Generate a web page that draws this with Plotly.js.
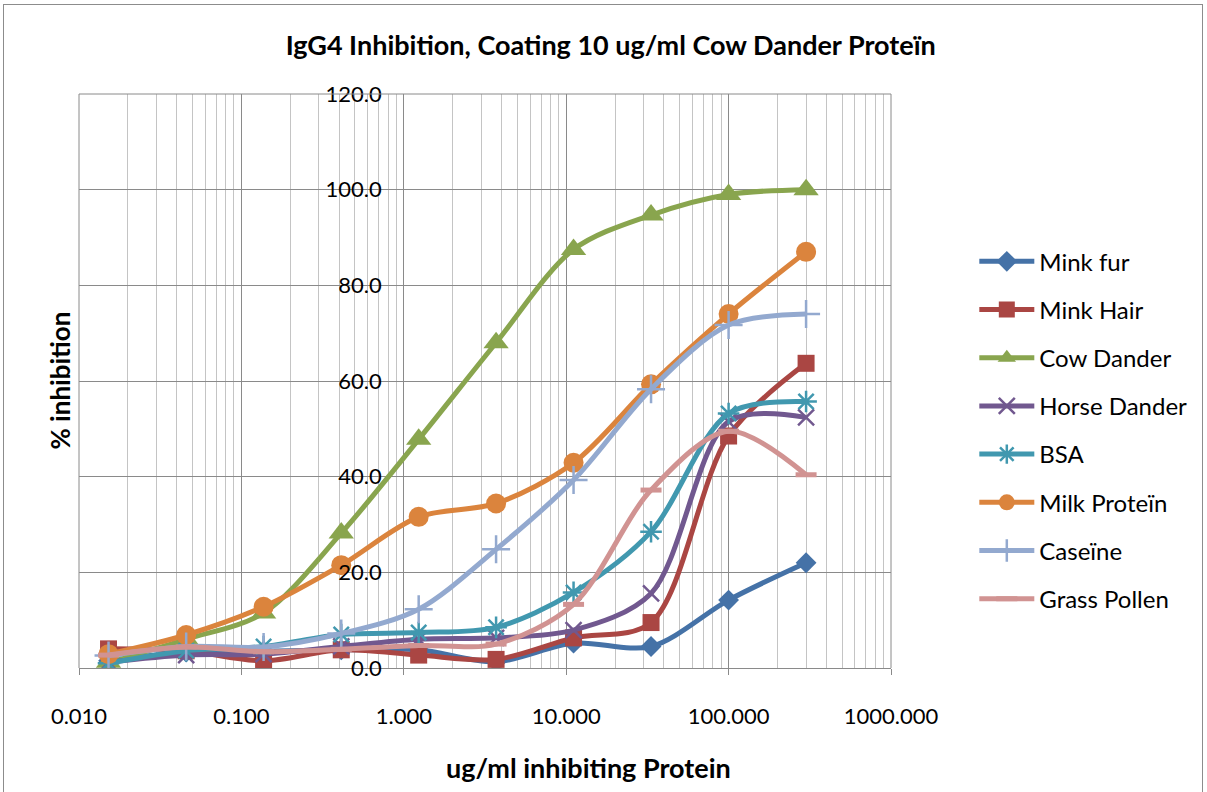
<!DOCTYPE html>
<html>
<head>
<meta charset="utf-8">
<script src="https://cdn.plot.ly/plotly-3.0.1.min.js"></script>
<style>
html,body{margin:0;padding:0;background:#fff;}
#wrap{position:relative;width:1207px;height:792px;}
#chart{width:1207px;height:792px;}
#frame{position:absolute;left:3px;top:4px;width:1200px;height:790px;border:1px solid #8c8c8c;pointer-events:none;box-sizing:border-box;border-bottom:none;}
</style>
</head>
<body>
<div id="wrap"><div id="chart"></div><div id="frame"></div></div>
<script>
const concentrations = [0.0152, 0.0457, 0.137, 0.412, 1.235, 3.70, 11.1, 33.3, 100, 300];

const minkFur     = [1.5, 3.3, 3.5, 3.8, 3.8, 1.3, 5.2, 4.5, 14.2, 22.0];
const minkHair    = [4.0, 3.6, 1.5, 3.8, 2.7, 1.8, 6.3, 9.5, 48.5, 63.7];
const cowDander   = [1.2, 6.0, 11.5, 28.2, 47.8, 68.0, 87.5, 94.7, 99.0, 100.0];
const horseDander = [1.2, 2.7, 2.9, 4.5, 6.0, 6.3, 7.9, 15.6, 51.5, 52.4];
const bsa         = [1.0, 3.6, 4.5, 7.0, 7.4, 8.5, 15.8, 28.5, 53.2, 55.7];
const milkProtein = [2.9, 6.9, 12.8, 21.5, 31.6, 34.4, 42.9, 59.3, 74.0, 87.0];
const caseine     = [2.6, 4.5, 4.4, 7.2, 12.3, 24.8, 39.3, 58.3, 71.7, 74.0];
const grassPollen = [2.7, 4.4, 3.4, 3.9, 4.7, 5.0, 13.3, 37.2, 49.5, 40.4];

const seriesNames = ["Mink fur", "Mink Hair", "Cow Dander", "Horse Dander", "BSA", "Milk Proteïn", "Caseïne", "Grass Pollen"];
const xTickVals = [0.01, 0.1, 1, 10, 100, 1000];
const xTickText = ["0.010", "0.100", "1.000", "10.000", "100.000", "1000.000"];

const seriesData = [minkFur, minkHair, cowDander, horseDander, bsa, milkProtein, caseine, grassPollen];
const colors = ["#4572A7", "#AA4643", "#89A54E", "#71588F", "#4198AF", "#DB843D", "#93A9CF", "#D19392"];
const markers = [
  {symbol: "diamond", size: 16},
  {symbol: "square", size: 17},
  {symbol: "triangle-up", size: 22},
  {symbol: "x-thin-open", size: 16, line: {width: 2.5}},
  {symbol: "asterisk-open", size: 18, line: {width: 2.5}},
  {symbol: "circle", size: 20},
  {symbol: "cross-thin-open", size: 20, line: {width: 2.5}},
  {symbol: "line-ew-open", size: 15, line: {width: 5}}
];

const FONT = "Lato, 'Open Sans', sans-serif";

const traces = seriesData.map((vals, i) => {
  const m = Object.assign({color: colors[i]}, markers[i]);
  if (m.line) m.line = Object.assign({color: colors[i]}, m.line);
  return {
    x: concentrations,
    y: vals,
    name: seriesNames[i],
    type: "scatter",
    mode: "lines+markers",
    line: {color: colors[i], width: 5, shape: "spline", smoothing: 0.9},
    marker: m,
    legendgroup: "g" + i
  };
});

const layout = {
  width: 1207,
  height: 792,
  margin: {l: 79, r: 316, t: 94, b: 124},
  paper_bgcolor: "#fff",
  plot_bgcolor: "#fff",
  font: {family: FONT, size: 22, color: "#000"},
  showlegend: true,
  legend: {
    x: 1.1026, y: 0.747, xanchor: "left", yanchor: "top",
    font: {family: FONT, size: 24, color: "#000"},
    tracegroupgap: 14,
    itemwidth: 55,
    bgcolor: "rgba(0,0,0,0)"
  },
  title: {
    text: "<b>IgG4 Inhibition, Coating 10 ug/ml Cow Dander Proteïn</b>",
    x: 0.506, xref: "container", xanchor: "center",
    y: 0.943, yref: "container", yanchor: "middle",
    font: {family: FONT, size: 27, color: "#000"}
  },
  xaxis: {
    type: "log",
    range: [-2, 3],
    tickvals: xTickVals,
    ticktext: xTickText,
    showgrid: true,
    gridcolor: "#8a8a8a",
    gridwidth: 1,
    minor: {dtick: "D1", showgrid: true, gridcolor: "#c4c4c4", gridwidth: 1},
    showline: true,
    linecolor: "#8a8a8a",
    linewidth: 1,
    ticks: "outside",
    ticklen: 6,
    tickcolor: "#8a8a8a",
    ticklabelstandoff: 23,
    tickfont: {family: FONT, size: 22, color: "#000"},
    zeroline: false,
    fixedrange: true
  },
  yaxis: {
    range: [0, 120],
    dtick: 20,
    tickformat: ".1f",
    showgrid: true,
    gridcolor: "#8a8a8a",
    gridwidth: 1,
    anchor: "free",
    position: 0.4,
    side: "left",
    showline: false,
    ticks: "",
    ticklabelstandoff: 22,
    tickfont: {family: FONT, size: 22, color: "#000"},
    zeroline: false,
    fixedrange: true
  },
  shapes: [
    {type: "line", xref: "paper", yref: "paper", x0: 0, x1: 1, y0: 1, y1: 1, line: {color: "#8a8a8a", width: 1}},
    {type: "line", xref: "paper", yref: "paper", x0: 1, x1: 1, y0: 0, y1: 1, line: {color: "#8a8a8a", width: 1}},
    {type: "line", xref: "paper", yref: "paper", x0: 0, x1: 0, y0: 0, y1: 1, line: {color: "#8a8a8a", width: 1}}
  ],
  annotations: [
    {text: "<b>% inhibition</b>", xref: "paper", yref: "paper", x: -0.024, y: 0.5, textangle: -90,
     showarrow: false, xanchor: "center", yanchor: "middle", font: {family: FONT, size: 26, color: "#000"}},
    {text: "<b>ug/ml inhibiting Protein</b>", xref: "paper", yref: "paper", x: 0.628, y: -0.174,
     showarrow: false, xanchor: "center", yanchor: "middle", font: {family: FONT, size: 27, color: "#000"}}
  ]
};

Plotly.newPlot("chart", traces, layout, {displayModeBar: false, staticPlot: true});
</script>
</body>
</html>
